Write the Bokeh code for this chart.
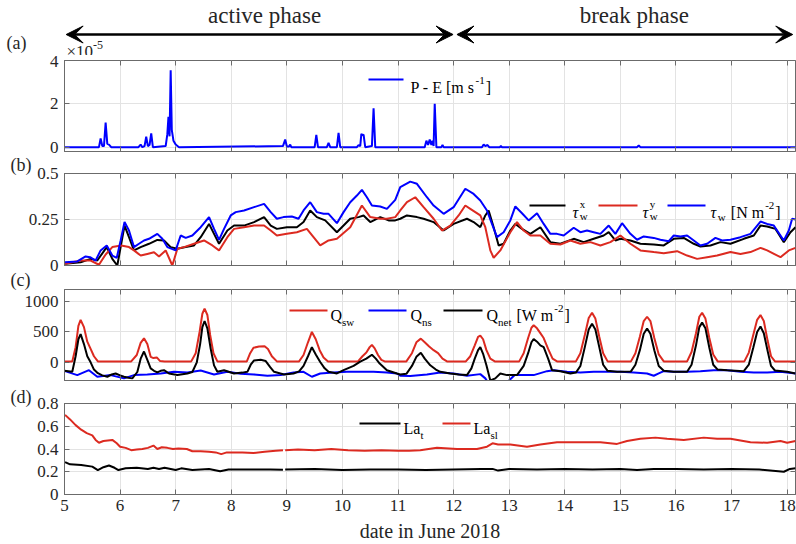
from bokeh.plotting import figure
from bokeh.models import (Range1d, FixedTicker, NumeralTickFormatter, Label, Title,
                          BoxAnnotation, Arrow, VeeHead, LinearAxis)
from bokeh.layouts import column
from bokeh.embed import file_html
from bokeh.resources import INLINE

NaN = float("nan")
FONT = "Liberation Serif"
BLUE = "#0000ff"
RED = "#dc2a20"
BLACK = "#000000"
GRID = "#e3e3e3"
FRAME = "#6b6b6b"
TXT = "#262626"

# ---------------- data ----------------
day_ticks = list(range(5, 19))
x_start, x_end = 5.0, 18.15

phase_names = ["active phase", "break phase"]
phase_start = [5.03, 12.06]
phase_end = [11.99, 18.10]
phase_label_x = [8.6, 15.25]

# (a) P - E, in units of 1e-5 m/s
pe_t = [5.00, 5.62, 5.65, 5.68, 5.71, 5.74, 5.77, 5.80, 5.84,
        6.33, 6.37, 6.40, 6.44, 6.47, 6.50, 6.53, 6.56, 6.59,
        6.82, 6.85, 6.87, 6.89, 6.91, 6.93, 6.96, 7.00, 7.06,
        8.93, 8.97, 9.00, 9.04, 9.06, 9.08,
        9.50, 9.53, 9.56, 9.72, 9.75, 9.78, 9.90, 9.93, 9.96,
        10.26, 10.29, 10.32, 10.34, 10.36, 10.38, 10.41,
        10.53, 10.56, 10.59,
        11.48, 11.51, 11.54, 11.57, 11.60, 11.62, 11.64, 11.66, 11.69,
        11.78, 11.80, 11.82,
        12.51, 12.54, 12.57, 12.61, 12.64, 12.83, 12.85, 12.87,
        15.30, 15.33, 15.36, 18.15]
pe_val = [0, 0, 0.40, 0.05, 0.05, 1.14, 0.15, 0.12, 0,
          0, 0.12, 0, 0.05, 0.49, 0.05, 0.10, 0.64, 0,
          0.05, 0.60, 1.40, 0.50, 3.55, 0.80, 0.30, 0.12, 0,
          0.05, 0.35, 0.03, 0.03, 0.12, 0,
          0, 0.57, 0, 0, 0.20, 0, 0, 0.66, 0,
          0, 0.10, 0.05, 0.61, 0.55, 0.58, 0,
          0.05, 1.79, 0,
          0, 0.30, 0.10, 0.35, 0.10, 0.30, 0.05, 2.00, 0,
          0, 0.10, 0,
          0, 0.12, 0.05, 0.10, 0, 0, 0.05, 0,
          0, 0.08, 0, 0]

# (b) wind stress [N m-2]
tw_t = [5.01, 5.23, 5.38, 5.46, 5.56, 5.65, 5.76, 5.86, 5.94, 6.01, 6.08, 6.16,
        6.25, 6.34, 6.43, 6.52, 6.67, 6.76, 6.85, 7.00, 7.09, 7.18, 7.30, 7.45,
        7.60, 7.69, 7.78, 7.87, 7.99, 8.08, 8.23, 8.41, 8.59, 8.71, 8.82, 8.94,
        9.09, 9.21, 9.30, 9.42, 9.54, 9.66, 9.75, 9.90, 10.02, 10.14, 10.26,
        10.35, 10.44, 10.53, 10.68, 10.80, 10.95, 11.04, 11.22, 11.34, 11.52,
        11.64, 11.82, 12.00, 12.21, 12.36, 12.48, 12.60, 12.69, 12.78, 12.90,
        13.02, 13.11, 13.23, 13.35, 13.50, 13.62, 13.74, 13.86, 13.98, 14.16,
        14.28, 14.40, 14.52, 14.64, 14.79, 14.91, 15.03, 15.18, 15.30, 15.42,
        15.60, 15.72, 15.87, 15.96, 16.08, 16.20, 16.32, 16.44, 16.56, 16.71,
        16.83, 16.98, 17.16, 17.34, 17.52, 17.64, 17.76, 17.94, 18.03, 18.09, 18.15]
tw_val = [0.018, 0.022, 0.049, 0.045, 0.027, 0.082, 0.109, 0.054, 0.042, 0.136, 0.236, 0.190,
          0.100, 0.118, 0.136, 0.145, 0.172, 0.145, 0.100, 0.082, 0.163, 0.150, 0.163, 0.208,
          0.263, 0.199, 0.139, 0.199, 0.272, 0.290, 0.299, 0.317, 0.335, 0.290, 0.254, 0.263,
          0.266, 0.254, 0.299, 0.344, 0.290, 0.281, 0.281, 0.230, 0.290, 0.344, 0.380,
          0.411, 0.371, 0.326, 0.321, 0.308, 0.357, 0.426, 0.456, 0.444, 0.371,
          0.326, 0.281, 0.317, 0.417, 0.389, 0.353, 0.299, 0.226, 0.154, 0.181,
          0.245, 0.321, 0.284, 0.245, 0.284, 0.226, 0.172, 0.172, 0.163, 0.205,
          0.181, 0.190, 0.181, 0.172, 0.217, 0.172, 0.230, 0.172, 0.140, 0.158,
          0.150, 0.140, 0.132, 0.163, 0.158, 0.163, 0.136, 0.109, 0.118, 0.150,
          0.136, 0.140, 0.154, 0.172, 0.239, 0.226, 0.217, 0.136, 0.190, 0.254, 0.250]

tx_t = [5.01, 5.29, 5.47, 5.59, 5.76, 5.86, 5.95, 6.08, 6.16, 6.25, 6.37, 6.52,
        6.67, 6.79, 6.91, 7.03, 7.18, 7.33, 7.45, 7.60, 7.69, 7.78, 7.93, 8.05,
        8.23, 8.41, 8.59, 8.71, 8.82, 9.00, 9.18, 9.30, 9.42, 9.54, 9.69, 9.90,
        10.02, 10.14, 10.29, 10.38, 10.50, 10.68, 10.83, 10.95, 11.04, 11.16,
        11.34, 11.46, 11.64, 11.82, 12.00, 12.24, 12.36, 12.48, 12.57, 12.63,
        12.72, 12.81, 12.90, 13.02, 13.11, 13.23, 13.38, 13.56, 13.74, 13.92,
        14.16, 14.34, 14.52, 14.70, 14.79, 14.91, 15.00, 15.18, 15.36, 15.60,
        15.78, 15.96, 16.14, 16.32, 16.44, 16.62, 16.80, 16.98, 17.22, 17.40,
        17.52, 17.64, 17.79, 17.94, 18.06, 18.15]
tx_val = [0.009, 0.018, 0.036, 0.027, 0.100, 0.036, 0.000, 0.217, 0.154, 0.082, 0.100, 0.118,
          0.139, 0.136, 0.100, 0.091, 0.100, 0.109, 0.154, 0.226, 0.172, 0.118, 0.190, 0.217,
          0.217, 0.236, 0.263, 0.217, 0.199, 0.208, 0.208, 0.236, 0.299, 0.263, 0.245, 0.181,
          0.217, 0.254, 0.263, 0.272, 0.236, 0.263, 0.245, 0.245, 0.254, 0.272,
          0.263, 0.254, 0.236, 0.190, 0.226, 0.254, 0.236, 0.208, 0.272, 0.299,
          0.208, 0.109, 0.118, 0.190, 0.226, 0.199, 0.172, 0.208, 0.127, 0.118,
          0.145, 0.127, 0.145, 0.163, 0.181, 0.136, 0.145, 0.136, 0.118, 0.114,
          0.109, 0.145, 0.150, 0.118, 0.103, 0.109, 0.127, 0.118, 0.145, 0.163,
          0.217, 0.212, 0.199, 0.127, 0.181, 0.208]

ty_t = [5.01, 5.29, 5.47, 5.62, 5.74, 5.86, 6.02, 6.16, 6.25, 6.37, 6.49, 6.61,
        6.70, 6.82, 6.94, 7.03, 7.15, 7.33, 7.51, 7.66, 7.78, 7.93, 8.05, 8.23,
        8.41, 8.59, 8.71, 8.82, 9.00, 9.18, 9.36, 9.48, 9.60, 9.75, 9.90, 10.14,
        10.35, 10.50, 10.68, 10.80, 10.95, 11.04, 11.16, 11.31, 11.46, 11.64,
        11.79, 11.94, 12.09, 12.21, 12.30, 12.48, 12.57, 12.66, 12.72, 12.84,
        13.02, 13.14, 13.26, 13.38, 13.56, 13.74, 13.92, 14.10, 14.28, 14.46,
        14.64, 14.82, 15.00, 15.18, 15.36, 15.60, 15.78, 16.02, 16.20, 16.38,
        16.56, 16.74, 16.98, 17.16, 17.34, 17.52, 17.64, 17.88, 18.03, 18.15]
ty_val = [0.009, 0.027, 0.027, 0.004, 0.060, 0.100, 0.109, 0.100, 0.082, 0.054, 0.063, 0.072,
          0.049, 0.082, 0.000, 0.091, 0.100, 0.118, 0.136, 0.109, 0.082, 0.154, 0.199, 0.208,
          0.217, 0.217, 0.190, 0.163, 0.172, 0.181, 0.199, 0.154, 0.109, 0.136, 0.145, 0.208,
          0.326, 0.263, 0.254, 0.254, 0.263, 0.299, 0.344, 0.371, 0.317, 0.254,
          0.190, 0.217, 0.272, 0.326, 0.308, 0.272, 0.208, 0.082, 0.042, 0.082,
          0.181, 0.236, 0.190, 0.163, 0.163, 0.118, 0.114, 0.136, 0.118, 0.127,
          0.109, 0.127, 0.163, 0.118, 0.082, 0.073, 0.067, 0.078, 0.054, 0.036,
          0.045, 0.054, 0.073, 0.063, 0.073, 0.096, 0.082, 0.045, 0.082, 0.096]

# (c) surface heat fluxes [W m-2]
qsw_t = [5.00, 5.14, 5.20, 5.25, 5.29, 5.35, 5.41, 5.47, 5.53, 5.60,
         6.20, 6.30, 6.37, 6.43, 6.49, 6.55, 6.60, 6.66, 6.72, 6.80,
         7.28, 7.36, 7.43, 7.48, 7.52, 7.57, 7.62, 7.68, 7.75,
         8.28, 8.34, 8.40, 8.50, 8.60, 8.66, 8.73, 8.82,
         9.22, 9.30, 9.38, 9.45, 9.52, 9.59, 9.66, 9.74,
         10.28, 10.36, 10.43, 10.49, 10.53, 10.58, 10.64, 10.70, 10.76,
         11.15, 11.25, 11.33, 11.41, 11.48, 11.56, 11.64, 11.72, 11.80, 11.88,
         12.22, 12.30, 12.38, 12.44, 12.48, 12.53, 12.59, 12.66, 12.74,
         13.18, 13.26, 13.34, 13.40, 13.44, 13.50, 13.56, 13.62, 13.70, 13.78, 13.86,
         14.20, 14.28, 14.36, 14.43, 14.49, 14.55, 14.62, 14.69, 14.77,
         15.19, 15.27, 15.35, 15.42, 15.48, 15.54, 15.61, 15.69, 15.78,
         16.20, 16.28, 16.36, 16.42, 16.47, 16.53, 16.60, 16.67, 16.75,
         17.23, 17.31, 17.39, 17.46, 17.52, 17.58, 17.65, 17.71, 17.78, 18.15]
qsw_val = [15, 15, 250, 600, 700, 580, 340, 220, 100, 15,
           15, 120, 320, 395, 300, 90, 70, 80, 20, 15,
           15, 150, 500, 800, 886, 780, 450, 150, 15,
           15, 150, 240, 260, 265, 220, 100, 15,
           15, 120, 330, 500, 380, 200, 80, 15,
           15, 100, 160, 250, 286, 230, 120, 40, 15,
           15, 150, 330, 390, 330, 260, 200, 150, 60, 15,
           15, 100, 280, 420, 440, 380, 200, 60, 15,
           15, 150, 400, 570, 610, 560, 480, 400, 220, 60, 15,
           15, 150, 450, 730, 816, 720, 420, 150, 15,
           15, 150, 420, 680, 751, 680, 400, 130, 15,
           15, 170, 480, 750, 816, 720, 400, 130, 15,
           15, 160, 450, 700, 778, 680, 350, 100, 15, 15]

qns_t = [5.01, 5.23, 5.44, 5.59, 5.83, 6.07, 6.25, 6.49, 6.73, 6.97, 7.21, 7.45,
         7.69, 7.93, 8.17, 8.41, 8.65, 8.89, 9.12, 9.30, 9.45, 9.60, 9.84, 10.08,
         10.32, 10.56, 10.80, 10.98, 11.04, 11.22, 11.52, 11.76, 12.00, 12.24,
         12.48, 12.57, 12.63, 12.70, 12.95, 13.10, 13.44, 13.68, 13.80, 14.04,
         14.28, 14.52, 14.76, 15.00, 15.24, 15.48, 15.60, 15.69, 15.78, 15.96,
         16.20, 16.44, 16.68, 16.92, 17.16, 17.40, 17.64, 17.88, 18.15]
qns_val = [-146, -211, -130, -238, -211, -265, -211, -200, -184, -157, -167, -135,
           -200, -157, -189, -200, -222, -211, -168, -157, -238, -184, -168, -157,
           -157, -157, -168, -184, -222, -227, -200, -168, -184, -222,
           -195, -265, -350, -420, -340, -211, -211, -146, -130, -157,
           -168, -157, -157, -157, -168, -184, -222, -184, -146, -157,
           -157, -146, -130, -130, -157, -168, -168, -157, -184]

qnet_t = [5.00, 5.14, 5.20, 5.25, 5.29, 5.35, 5.41, 5.47, 5.53, 5.60, 5.68, 5.77,
          5.85, 5.92, 6.00, 6.07, 6.15, 6.22, 6.31, 6.37, 6.43, 6.49, 6.55, 6.61,
          6.67, 6.73, 6.79, 6.88, 7.03, 7.21, 7.30, 7.38, 7.44, 7.48, 7.52, 7.57,
          7.63, 7.69, 7.75, 7.87, 8.05, 8.20, 8.29, 8.35, 8.41, 8.53, 8.62, 8.70,
          8.77, 8.95, 9.12, 9.22, 9.30, 9.38, 9.45, 9.52, 9.60, 9.68, 9.75, 9.90,
          10.02, 10.20, 10.32, 10.43, 10.53, 10.60, 10.67, 10.80, 10.98,
          11.04, 11.15, 11.25, 11.33, 11.41, 11.48, 11.58, 11.68, 11.76, 11.94,
          12.09, 12.24, 12.32, 12.38, 12.44, 12.48, 12.53, 12.59, 12.66, 12.75,
          12.84, 12.96, 13.14, 13.26, 13.34, 13.40, 13.44, 13.50, 13.56, 13.62,
          13.70, 13.77, 13.92, 14.10, 14.20, 14.28, 14.36, 14.43, 14.49, 14.55,
          14.62, 14.69, 14.77, 14.94, 15.19, 15.27, 15.35, 15.42, 15.48, 15.54,
          15.61, 15.69, 15.78, 15.96, 16.20, 16.28, 16.36, 16.42, 16.47, 16.53,
          16.60, 16.67, 16.75, 16.92, 17.22, 17.31, 17.39, 17.46, 17.52, 17.58,
          17.65, 17.71, 17.78, 18.00, 18.15]
qnet_val = [-140, -157, 100, 380, 465, 300, 100, 0, -120, -180, -215, -238,
            -200, -184, -215, -238, -255, -265, -160, 60, 178, 40, -100, -140,
            -167, -140, -130, -184, -211, -184, -160, 0, 300, 580, 681, 560,
            222, -50, -157, -130, -184, -170, -157, -40, 30, 43, 20, -80,
            -157, -200, -184, -150, -60, 100, 249, 130, 5, -100, -157, -184,
            -130, -60, 10, 60, 124, 60, -20, -130, -184,
            -200, -190, -60, 90, 157, 60, -49, -120, -157, -184,
            -200, -211, -100, 60, 200, 249, 140, -49, -300, -265,
            -184, -211, -211, -60, 150, 330, 384, 340, 280, 249,
            60, -130, -146, -184, -170, -60, 250, 540, 637, 540,
            250, -40, -140, -157, -150, -40, 200, 470, 556, 470,
            200, -60, -140, -157, -157, -40, 280, 580, 654, 560,
            240, -40, -120, -130, -146, -40, 240, 500, 589, 480,
            180, -60, -135, -157, -184]

# (d) Langmuir numbers
lasl_t = [5.01, 5.10, 5.20, 5.30, 5.40, 5.50, 5.56, 5.62, 5.70, 5.78, 5.86, 5.94,
          6.00, 6.10, 6.20, 6.30, 6.40, 6.50, 6.60, 6.67, 6.75, 6.85, 6.95, 7.05,
          7.20, 7.30, 7.45, 7.60, 7.72, 7.82, 7.92, 8.05, 8.20, 8.40, 8.60, 8.80,
          8.93, 8.95, 8.97, 9.20, 9.50, 9.80, 10.10, 10.40, 10.70, 11.00, 11.20,
          11.40, 11.70, 12.06, 12.42, 12.60, 12.70, 12.80, 13.02, 13.32, 13.56,
          13.86, 14.28, 14.64, 14.94, 15.12, 15.36, 15.63, 15.84, 16.14, 16.50,
          16.74, 16.98, 17.34, 17.64, 17.88, 18.00, 18.15]
lasl_val = [0.70, 0.66, 0.61, 0.57, 0.54, 0.52, 0.48, 0.455, 0.47, 0.475, 0.48, 0.45,
            0.42, 0.41, 0.39, 0.395, 0.40, 0.41, 0.43, 0.40, 0.415, 0.41, 0.40, 0.405,
            0.40, 0.38, 0.38, 0.375, 0.37, 0.355, 0.37, 0.37, 0.37, 0.365, 0.375, 0.385,
            0.39, NaN, 0.39, 0.395, 0.39, 0.40, 0.39, 0.385, 0.39, 0.385, 0.385,
            0.39, 0.41, 0.40, 0.40, 0.42, 0.45, 0.44, 0.44, 0.42, 0.44,
            0.46, 0.46, 0.46, 0.445, 0.47, 0.49, 0.50, 0.49, 0.48, 0.50,
            0.49, 0.49, 0.46, 0.455, 0.47, 0.455, 0.47]

lat_t = [5.01, 5.10, 5.30, 5.50, 5.60, 5.70, 5.80, 5.90, 5.97, 6.10, 6.30, 6.50,
         6.60, 6.70, 6.80, 7.00, 7.10, 7.30, 7.60, 7.80, 7.95, 8.30, 8.70, 8.93,
         8.95, 8.97, 9.50, 10.00, 10.50, 11.00, 11.50, 12.00, 12.50, 12.70, 12.80,
         13.00, 13.50, 14.00, 14.50, 15.00, 15.30, 15.60, 16.00, 16.50, 17.00,
         17.50, 17.94, 18.05, 18.15]
lat_val = [0.285, 0.265, 0.26, 0.245, 0.215, 0.24, 0.255, 0.235, 0.215, 0.23, 0.235, 0.225,
           0.235, 0.225, 0.235, 0.215, 0.23, 0.215, 0.225, 0.205, 0.22, 0.22, 0.22, 0.218,
           NaN, 0.22, 0.225, 0.215, 0.22, 0.22, 0.215, 0.22, 0.225, 0.225, 0.21,
           0.225, 0.22, 0.225, 0.22, 0.225, 0.215, 0.225, 0.225, 0.22, 0.225,
           0.22, 0.20, 0.225, 0.23]

# ---------------- helpers ----------------
# approximate advance widths (em) of the serif face, for placing sub/superscripts
ADV = {' ': 0.25, '-': 0.333, '[': 0.333, ']': 0.333, '(': 0.333, ')': 0.333,
       '\u00d7': 0.564, 'P': 0.556, 'E': 0.611, 'N': 0.722, 'W': 0.944, 'Q': 0.722,
       'L': 0.611, 'a': 0.444, 'e': 0.444, 'l': 0.278, 'm': 0.778, 'n': 0.5,
       's': 0.389, 't': 0.278, 'w': 0.722, 'x': 0.5, 'y': 0.5, '\u03c4': 0.46}


def tw(s, size):
    return sum(ADV.get(c, 0.5) for c in s) * size


def add_text(p, x, y, text, size, style="normal", baseline="alphabetic", align="left",
             color=BLACK, x_units="screen"):
    p.add_layout(Label(x=x, y=y, x_units=x_units, y_units="screen", text=text,
                       text_font=FONT, text_font_size=f"{size}px", text_font_style=style,
                       text_baseline=baseline, text_align=align, text_color=color))


def rich(p, x, y, parts, size=16, small=11, sup=8, sub=5):
    cx = x
    for part in parts:
        kind, txt = part[0], part[1]
        if kind in ("n", "it"):
            lead = len(txt) - len(txt.lstrip(" "))
            cx += tw(" " * lead, size)
            txt = txt.lstrip(" ")
            add_text(p, cx, y, txt, size, style="italic" if kind == "it" else "normal")
            cx += tw(txt, size)
        elif kind == "sub":
            add_text(p, cx, y - sub, txt, small)
            cx += tw(txt, small) + 1
        elif kind == "sup":
            add_text(p, cx + 1, y + sup - 1, txt, small)
            cx += tw(txt, small) + 2
        elif kind == "stack":
            add_text(p, cx, y + sup + 1, txt, small)
            add_text(p, cx, y - sub + 1, part[2], small)
            cx += max(tw(txt, small), tw(part[2], small)) + 1


def legend_line(p, x0, x1, y, color):
    p.add_layout(BoxAnnotation(left=x0, right=x1, bottom=y - 1, top=y + 1,
                               left_units="screen", right_units="screen",
                               bottom_units="screen", top_units="screen",
                               fill_color=color, fill_alpha=1.0, line_color=None,
                               level="overlay"))


def panel_title(p, text, standoff, valign):
    p.add_layout(Title(text=text, align="left", offset=-54, standoff=standoff,
                       vertical_align=valign, text_font=FONT, text_font_size="18px",
                       text_font_style="normal", text_color=TXT), "above")


def hide_labels(ax):
    ax.major_label_text_color = None
    ax.major_label_text_font_size = "0px"
    ax.major_label_standoff = 0


def box_ticks(ax, ticker):
    # inward tick marks on the top/right edges of the box, without labels
    ax.ticker = ticker
    ax.axis_line_color = None
    ax.major_tick_line_color = FRAME
    ax.major_tick_in = 5
    ax.major_tick_out = 0
    ax.minor_tick_line_color = None
    hide_labels(ax)
    return ax


x_range = Range1d(x_start, x_end)
FRAME_W = 731
LEFT = 64


def panel(y0, y1, yticks, frame_h, top, bottom, fmt="0.[00]", last=False):
    p = figure(frame_width=FRAME_W, frame_height=frame_h, x_range=x_range,
               y_range=Range1d(y0, y1), min_border_left=LEFT, min_border_right=1,
               min_border_top=top, min_border_bottom=bottom,
               output_backend="svg", toolbar_location=None)
    p.outline_line_color = FRAME
    p.outline_line_width = 1
    xt = FixedTicker(ticks=day_ticks)
    yt = FixedTicker(ticks=yticks)
    p.xaxis.ticker = xt
    p.xgrid.ticker = xt
    p.yaxis.ticker = yt
    p.ygrid.ticker = yt
    p.grid.grid_line_color = GRID
    p.grid.grid_line_width = 1
    for ax in (p.xaxis, p.yaxis):
        ax.axis_line_color = FRAME
        ax.major_tick_line_color = FRAME
        ax.major_tick_in = 5
        ax.major_tick_out = 0
        ax.minor_tick_line_color = None
        ax.major_label_text_font = FONT
        ax.major_label_text_font_size = "17px"
        ax.major_label_text_color = TXT
    p.yaxis.major_label_standoff = 6
    p.yaxis.formatter = NumeralTickFormatter(format=fmt)
    if last:
        p.xaxis.major_label_standoff = 5
        p.xaxis.axis_label = "date in June 2018"
        p.xaxis.axis_label_text_font = FONT
        p.xaxis.axis_label_text_font_size = "20px"
        p.xaxis.axis_label_text_font_style = "normal"
        p.xaxis.axis_label_text_color = TXT
        p.xaxis.axis_label_standoff = 6
    else:
        # shared date axis: tick labels only on the bottom panel
        hide_labels(p.xaxis[0])
    p.add_layout(box_ticks(LinearAxis(), FixedTicker(ticks=yticks)), "right")
    p.add_layout(box_ticks(LinearAxis(), FixedTicker(ticks=day_ticks)), "above")
    return p


# ---------------- header strip: phase arrows, (a) and the 1e-5 multiplier ----------------
TOP_H = 55
top = figure(frame_width=FRAME_W, frame_height=TOP_H, x_range=x_range, y_range=Range1d(0, TOP_H),
             min_border_left=LEFT, min_border_right=1, min_border_top=0, min_border_bottom=0,
             x_axis_type=None, output_backend="svg", toolbar_location=None)
top.outline_line_color = None
top.ygrid.visible = False
tag_y = TOP_H - 48
ya = top.yaxis[0]
ya.ticker = FixedTicker(ticks=[tag_y])
ya.major_label_overrides = {tag_y: "(a)"}
ya.axis_line_color = None
ya.major_tick_line_color = None
ya.minor_tick_line_color = None
ya.major_label_standoff = 32
ya.major_label_text_font = FONT
ya.major_label_text_font_size = "18px"
ya.major_label_text_color = TXT

for xs, xe in zip(phase_start, phase_end):
    top.add_layout(Arrow(x_start=xs, y_start=TOP_H - 34, x_end=xe, y_end=TOP_H - 34,
                         line_width=2.5, line_color=BLACK,
                         start=VeeHead(size=17, fill_color=BLACK, line_color=BLACK),
                         end=VeeHead(size=17, fill_color=BLACK, line_color=BLACK)))
for name, xl in zip(phase_names, phase_label_x):
    add_text(top, xl, TOP_H - 15, name, 23, baseline="middle", align="center",
             color=TXT, x_units="data")
add_text(top, 2, 4, "\u00d710", 17, color=TXT)
add_text(top, 2 + tw("\u00d710", 17), 10.5, "-5", 12, color=TXT)

# ---------------- (a) ----------------
pa = panel(-0.2, 4.0, [0, 2, 4], 91, 5, 3)
pa.line(pe_t, pe_val, line_color=BLUE, line_width=2)
legend_line(pa, 304, 339, 72, BLUE)
rich(pa, 346, 64, [("n", "P - E [m s"), ("sup", "-1"), ("n", "]")])

# ---------------- (b) ----------------
pb = panel(0, 0.5, [0, 0.25, 0.5], 92, 0, 6)
panel_title(pb, "(b)", -3, "bottom")
pb.line(tx_t, tx_val, line_color=BLACK, line_width=2)
pb.line(ty_t, ty_val, line_color=RED, line_width=2)
pb.line(tw_t, tw_val, line_color=BLUE, line_width=2)
legend_line(pb, 465, 501, 60, BLACK)
legend_line(pb, 534, 573, 60, RED)
legend_line(pb, 603, 641, 60, BLUE)
rich(pb, 508, 53, [("it", "\u03c4"), ("stack", "x", "w")], sub=4)
rich(pb, 578, 53, [("it", "\u03c4"), ("stack", "y", "w")], sub=4)
rich(pb, 646, 53, [("it", "\u03c4"), ("sub", "w"), ("n", " [N m"), ("sup", "-2"), ("n", "]")], sub=4)

# ---------------- (c) ----------------
pc = panel(-300, 1200, [0, 500, 1000], 91, 0, 7, fmt="0")
panel_title(pc, "(c)", -4, "top")
pc.line(qsw_t, qsw_val, line_color=RED, line_width=2)
pc.line(qns_t, qns_val, line_color=BLUE, line_width=2)
pc.line(qnet_t, qnet_val, line_color=BLACK, line_width=2)
legend_line(pc, 225, 263, 70, RED)
legend_line(pc, 304, 342, 70, BLUE)
legend_line(pc, 379, 418, 70, BLACK)
rich(pc, 266, 65, [("n", "Q"), ("sub", "sw")], sub=6)
rich(pc, 346, 65, [("n", "Q"), ("sub", "ns")], sub=6)
rich(pc, 422, 65, [("n", "Q"), ("sub", "net"), ("n", " [W m"), ("sup", "-2"), ("n", "]")], sub=6)

# ---------------- (d) ----------------
pd = panel(0, 0.8, [0, 0.2, 0.4, 0.6, 0.8], 91, 0, 50, last=True)
panel_title(pd, "(d)", -6, "bottom")
pd.line(lat_t, lat_val, line_color=BLACK, line_width=2)
pd.line(lasl_t, lasl_val, line_color=RED, line_width=2)
legend_line(pd, 295, 336, 71, BLACK)
legend_line(pd, 378, 406, 71, RED)
rich(pd, 339, 66, [("n", "La"), ("sub", "t")], sub=6)
rich(pd, 409, 66, [("n", "La"), ("sub", "sl")], sub=6)

layout = column(top, pa, pb, pc, pd)
with open("out.html", "w") as f:
    f.write(file_html(layout, INLINE))
